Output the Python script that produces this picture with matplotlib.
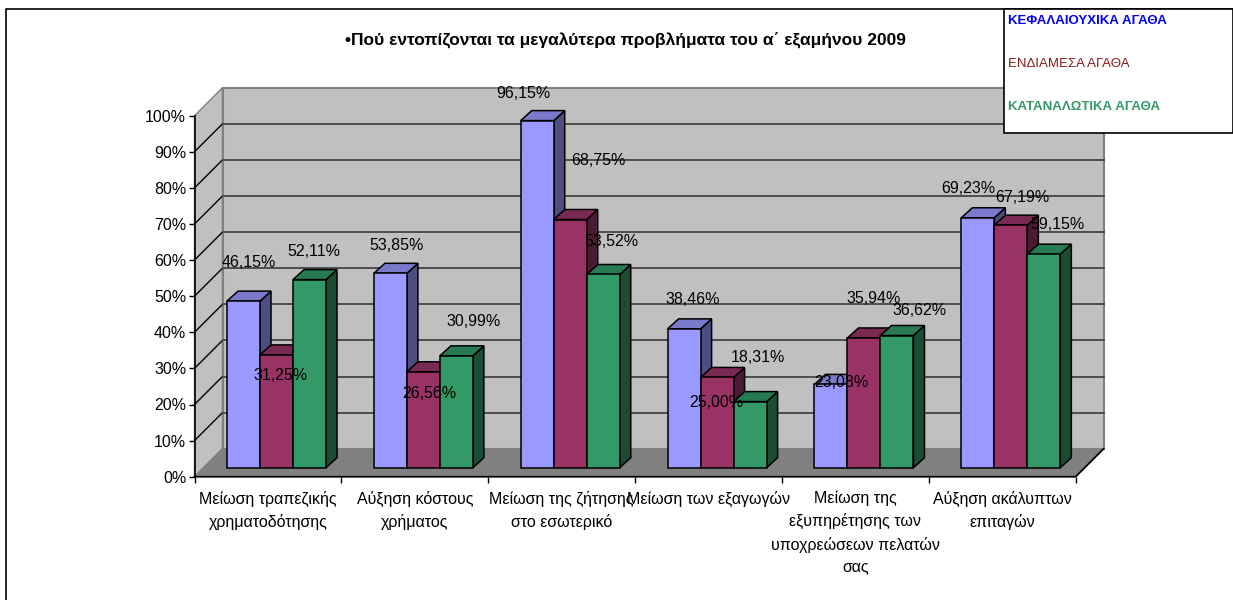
import matplotlib
matplotlib.use('Agg')
import matplotlib.pyplot as plt
from matplotlib.lines import Line2D
from matplotlib.patches import Rectangle

plt.rcParams['font.family'] = ['Liberation Sans Narrow', 'Liberation Sans', 'DejaVu Sans']

title = '•Πού εντοπίζονται τα μεγαλύτερα προβλήματα του α΄ εξαμήνου 2009'
categories = [
    'Μείωση τραπεζικής\nχρηματοδότησης',
    'Αύξηση κόστους\nχρήματος',
    'Μείωση της ζήτησης\nστο εσωτερικό',
    'Μείωση των εξαγωγών',
    'Μείωση της\nεξυπηρέτησης των\nυποχρεώσεων πελατών\nσας',
    'Αύξηση ακάλυπτων\nεπιταγών',
]
series_names = ['ΚΕΦΑΛΑΙΟΥΧΙΚΑ ΑΓΑΘΑ', 'ΕΝΔΙΑΜΕΣΑ ΑΓΑΘΑ', 'ΚΑΤΑΝΑΛΩΤΙΚΑ ΑΓΑΘΑ']
capital = [46.15, 53.85, 96.15, 38.46, 23.08, 69.23]
intermediate = [31.25, 26.56, 68.75, 25.00, 35.94, 67.19]
consumer = [52.11, 30.99, 53.52, 18.31, 36.62, 59.15]
y_ticks = [0, 10, 20, 30, 40, 50, 60, 70, 80, 90, 100]

# label offsets from the bar top, in pixels (placed by hand in the original)
label_offsets = [
    [(5.5, 39), (6.5, 28), (-13.5, 27), (8.5, 29), (10.5, 2), (-9.5, 29)],
    [(4.5, -21), (5.5, -22), (28.5, 59), (-0.5, -25), (9.5, 39), (11.5, 28)],
    [(4.5, 28), (17.5, 34), (8.5, 33), (7.5, 44), (22.5, 25), (13.5, 29.5)],
]

front_colors = ['#9999FF', '#993366', '#339966']
top_colors = ['#7A7ACC', '#7A2952', '#287A52']
side_colors = ['#4D4D80', '#4D1A33', '#1A4D33']
legend_colors = ['#0000FF', '#8B1A1A', '#339966']

W, H = 1233, 600
LEFT, RIGHT, BOTTOM, TOP = 194.5, 1075.7, 476.7, 115.7

fig = plt.figure(figsize=(W / 100, H / 100), dpi=100, facecolor='white')
ax = fig.add_axes([LEFT / W, 1 - BOTTOM / H, (RIGHT - LEFT) / W, (BOTTOM - TOP) / H])
ax.set_xlim(0, 6)
ax.set_ylim(0, 100)
ax.patch.set_alpha(0)

# one pixel in data units
px = 6 / (RIGHT - LEFT)
py = 100 / (BOTTOM - TOP)
wall_dx, wall_dy = 28 * px, 28 * py
bar_dx, bar_dy = 11 * px, 10 * py
shift_x, shift_y = 8.5 * px, 9 * py

# walls and floor
ax.fill([0, wall_dx, wall_dx, 0], [0, wall_dy, 100 + wall_dy, 100],
        facecolor='#C0C0C0', edgecolor='#808080', lw=1, clip_on=False, zorder=1)
ax.fill([wall_dx, 6 + wall_dx, 6 + wall_dx, wall_dx], [wall_dy, wall_dy, 100 + wall_dy, 100 + wall_dy],
        facecolor='#C0C0C0', edgecolor='#808080', lw=1.5, clip_on=False, zorder=1)
ax.fill([0, 6, 6 + wall_dx, wall_dx], [0, 0, wall_dy, wall_dy],
        facecolor='#808080', edgecolor='#808080', lw=1, clip_on=False, zorder=2)
for t in y_ticks[1:-1]:
    ax.plot([0, wall_dx], [t, t + wall_dy], color='black', lw=1, clip_on=False, zorder=3)
    ax.plot([wall_dx, 6 + wall_dx], [t + wall_dy, t + wall_dy], color='#4D4D4D', lw=1.4, clip_on=False, zorder=3)
ax.plot([0, 6, 6 + wall_dx], [0, 0, wall_dy], color='black', lw=1.2, clip_on=False, zorder=3)

# bars, left to right so each one covers the side of the previous
bar_w = 33 * px
start = 0.1635
z = 4
for s, values in enumerate([capital, intermediate, consumer]):
    for c, v in enumerate(values):
        x0 = c + start + s * bar_w + shift_x
        y0 = shift_y
        x1 = x0 + bar_w
        y1 = y0 + v
        order = z + c * 10 + s
        ax.fill([x1, x1 + bar_dx, x1 + bar_dx, x1], [y0, y0 + bar_dy, y1 + bar_dy, y1],
                facecolor=side_colors[s], edgecolor='black', lw=1.1, clip_on=False, zorder=order)
        ax.fill([x0, x1, x1 + bar_dx, x0 + bar_dx], [y1, y1, y1 + bar_dy, y1 + bar_dy],
                facecolor=top_colors[s], edgecolor='black', lw=1.1, clip_on=False, zorder=order)
        ax.bar(x0, v, bar_w, bottom=y0, align='edge', facecolor=front_colors[s],
               edgecolor='black', lw=1.1, clip_on=False, zorder=order)
        label = f'{v:.2f}%'.replace('.', ',')
        ax.annotate(label, (x0 + bar_w / 2, y1), xytext=label_offsets[s][c], textcoords='offset pixels',
                    ha='center', va='center', fontsize=11.5, color='black', zorder=100, annotation_clip=False)

# axes
for name in ['top', 'right', 'bottom']:
    ax.spines[name].set_visible(False)
ax.spines['left'].set_linewidth(1.2)
ax.spines['left'].set_zorder(3)
ax.set_yticks(y_ticks)
ax.set_yticklabels([f'{t}%' for t in y_ticks], fontsize=11.5)
ax.tick_params(axis='y', length=4, width=1, pad=2)
ax.set_xticks(range(7))
ax.set_xticklabels([])
ax.tick_params(axis='x', length=4.5, width=1)
for c, name in enumerate(categories):
    ax.text(c + 0.5, -3.9, name, ha='center', va='top', fontsize=11.5, linespacing=1.55, clip_on=False)

fig.text(625 / W, 1 - 41 / H, title, ha='center', va='center', fontsize=12.5, fontweight='bold')

# frame and legend box sit on top of the chart
fig.add_artist(Line2D([6 / W, 6 / W, 1], [0, 1 - 9 / H, 1 - 9 / H], color='black', lw=1.2))
box = Rectangle((1004 / W, 1 - 133 / H), (W - 1004) / W, 124 / H, transform=fig.transFigure,
                facecolor='white', edgecolor='black', lw=1.2, zorder=200)
fig.add_artist(box)
legend_y = [21, 64, 107]
legend_weight = ['bold', 'normal', 'bold']
for name, col, yy, wt in zip(series_names, legend_colors, legend_y, legend_weight):
    t = fig.text(1008 / W, 1 - yy / H, name, color=col, fontsize=9.5, fontweight=wt, ha='left', va='center', zorder=201)

fig.savefig('out.png', dpi=100)
